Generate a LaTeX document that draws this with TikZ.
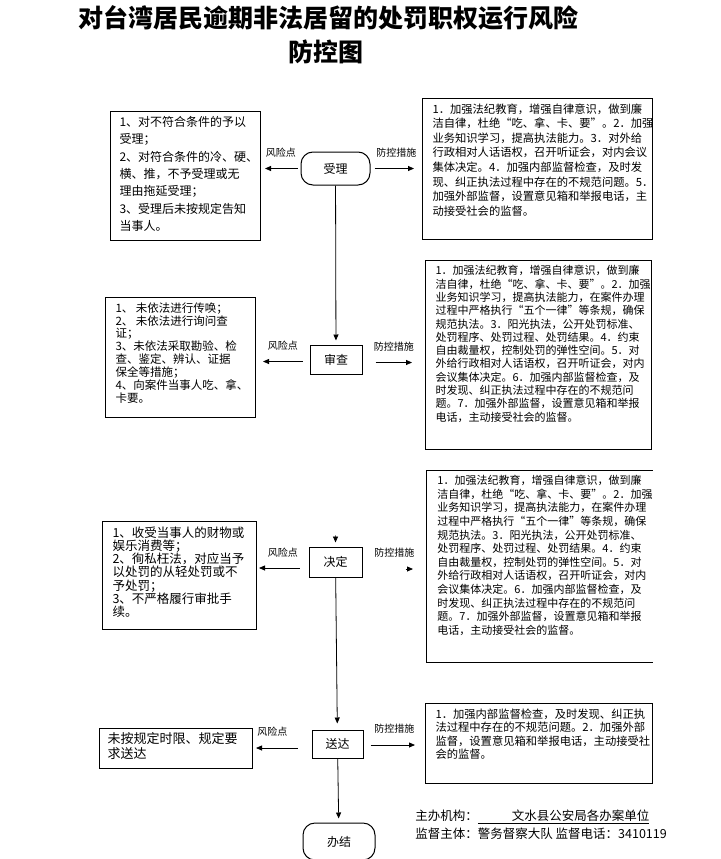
\documentclass[tikz,border=0pt]{standalone}
\usepackage{fontspec}
\setmainfont{Noto Sans CJK SC}
\usetikzlibrary{arrows.meta}

\newcommand{\boxtxt}[3]{\parbox[c][#2][t]{#1}{\raggedright #3}}

\begin{document}
\begin{tikzpicture}[x=1pt,y=-1pt,line width=0.8pt,
  arr/.style={-{Triangle[length=6pt,width=5pt]}},
  txtbox/.style={draw,line width=1pt,anchor=north west,inner xsep=10pt,inner ysep=5pt},
  openbox/.style={anchor=north west,inner xsep=11pt,inner ysep=5pt},
  stage/.style={draw,line width=1pt,minimum width=52pt,minimum height=29pt,inner sep=0pt,font=\fontsize{12}{14}\selectfont},
  lbl/.style={font=\fontsize{10}{12}\selectfont}]

\useasboundingbox (0,0) rectangle (720,859);

\node (t1) at (328,18) {\fontsize{25}{25}\selectfont\bfseries 对台湾居民逾期非法居留的处罚职权运行风险};
\node (t2) at (326,52) {\fontsize{25}{25}\selectfont\bfseries 防控图};

\node[stage,minimum width=69pt,minimum height=33pt,rounded corners=12pt] (sl) at (335.5,168.5) {受理};
\node[stage] (sc) at (336,359.5) {审查};
\node[stage,minimum width=53pt,minimum height=30pt] (jd) at (335.5,562) {决定};
\node[stage,minimum width=51pt,minimum height=28pt] (sd) at (337.5,744) {送达};
\node[stage,minimum width=72pt,minimum height=37pt,rounded corners=12pt] (bj) at (339,841.5) {办结};

\node[txtbox,inner xsep=9pt] (r1) at (110,111) {\fontsize{12}{17.3}\selectfont\boxtxt{132pt}{119pt}{%
1、对不符合条件的予以\\
受理；\\
2、对符合条件的冷、硬、\\
横、推，不予受理或无\\
理由拖延受理；\\
3、受理后未按规定告知\\
当事人。}};

\node[txtbox] (r2) at (105,297) {\fontsize{11.5}{12.9}\selectfont\boxtxt{130pt}{110pt}{%
1、 未依法进行传唤；\\
2、 未依法进行询问查\\
证；\\
3、未依法采取勘验、检\\
查、鉴定、辨认、证据\\
保全等措施；\\
4、向案件当事人吃、拿、\\
卡要。}};

\node[txtbox] (r3) at (102,521) {\fontsize{12.5}{13.3}\selectfont\boxtxt{134pt}{98pt}{%
1、收受当事人的财物或\\
娱乐消费等；\\
2、徇私枉法，对应当予\\
以处罚的从轻处罚或不\\
予处罚；\\
3、不严格履行审批手\\
续。}};

\node[txtbox,inner xsep=8pt,inner ysep=4pt] (r4) at (99,728) {\fontsize{13}{15}\selectfont\boxtxt{137pt}{32pt}{%
未按规定时限、规定要\\
求送达}};

\node[txtbox] (m1) at (422,98) {\fontsize{11.3}{14.6}\selectfont\boxtxt{210pt}{131pt}{%
1．加强法纪教育，增强自律意识，做到廉\\
洁自律，杜绝“吃、拿、卡、要”。2．加强\\
业务知识学习，提高执法能力。3．对外给\\
行政相对人话语权，召开听证会，对内会议\\
集体决定。4．加强内部监督检查，及时发\\
现、纠正执法过程中存在的不规范问题。5．\\
加强外部监督，设置意见箱和举报电话，主\\
动接受社会的监督。}};

\node[txtbox] (m2) at (425,260) {\fontsize{11}{13.3}\selectfont\boxtxt{206pt}{179pt}{%
1．加强法纪教育，增强自律意识，做到廉\\
洁自律，杜绝“吃、拿、卡、要”。2．加强\\
业务知识学习，提高执法能力，在案件办理\\
过程中严格执行“五个一律”等条规，确保\\
规范执法。3．阳光执法，公开处罚标准、\\
处罚程序、处罚过程、处罚结果。4．约束\\
自由裁量权，控制处罚的弹性空间。5．对\\
外给行政相对人话语权，召开听证会，对内\\
会议集体决定。6．加强内部监督检查，及\\
时发现、纠正执法过程中存在的不规范问\\
题。7．加强外部监督，设置意见箱和举报\\
电话，主动接受社会的监督。}};

\node[openbox] (m3) at (426,470) {\fontsize{11}{13.6}\selectfont\boxtxt{204pt}{182pt}{%
1．加强法纪教育，增强自律意识，做到廉\\
洁自律，杜绝“吃、拿、卡、要”。2．加强\\
业务知识学习，提高执法能力，在案件办理\\
过程中严格执行“五个一律”等条规，确保\\
规范执法。3．阳光执法，公开处罚标准、\\
处罚程序、处罚过程、处罚结果。4．约束\\
自由裁量权，控制处罚的弹性空间。5．对\\
外给行政相对人话语权，召开听证会，对内\\
会议集体决定。6．加强内部监督检查，及\\
时发现、纠正执法过程中存在的不规范问\\
题。7．加强外部监督，设置意见箱和举报\\
电话，主动接受社会的监督。}};
\draw[line width=1pt] (m3.north east) -- (m3.north west) -- (m3.south west) -- (m3.south east);

\node[txtbox] (m4) at (425,703) {\fontsize{11.3}{13.5}\selectfont\boxtxt{207pt}{70pt}{%
1．加强内部监督检查，及时发现、纠正执\\
法过程中存在的不规范问题。2．加强外部\\
监督，设置意见箱和举报电话，主动接受社\\
会的监督。}};

\draw[arr,shorten >=4pt] (sl) -- (sc);
\draw[arr,shorten <=161pt,shorten >=4pt] (sc.south) -- (jd.north);
\draw[arr,shorten >=6pt] (jd) -- (sd);
\draw[arr,shorten >=4pt] (sd) -- (bj);

\draw[arr,shorten <=3pt,shorten >=4pt] (sl.west) -- (sl.west -| r1.east) node[lbl,midway,above=7pt] {风险点};
\draw[arr,shorten <=4pt,shorten >=8pt] (sl.east) -- (sl.east -| m1.west) node[lbl,midway,above=7pt] {防控措施};

\draw[arr,shorten <=7pt,shorten >=7pt] ([yshift=-2pt]sc.west) -- ([yshift=-2pt]sc.west -| r2.east) node[lbl,midway,above=7pt] {风险点};
\draw[arr,shorten <=13pt,shorten >=13pt] ([yshift=-3pt]sc.east) -- ([yshift=-3pt]sc.east -| m2.west) node[lbl,midway,above=7pt] {防控措施};

\draw[arr,shorten <=9pt,shorten >=2pt] ([yshift=-6pt]jd.west) -- ([yshift=-6pt]jd.west -| r3.east) node[lbl,midway,above=7pt] {风险点};
\draw[arr,shorten <=43pt,shorten >=13pt] ([yshift=-7pt]jd.east) -- ([yshift=-7pt]jd.east -| m3.west) node[lbl,midway,above=8pt] {防控措施};

\draw[arr,shorten <=14pt,shorten >=3pt] ([yshift=-4pt]sd.west) -- ([yshift=-4pt]sd.west -| r4.east) node[lbl,pos=.67,above=8pt] {风险点};
\draw[arr,shorten <=7pt,shorten >=10pt] ([yshift=-1pt]sd.east) -- ([yshift=-1pt]sd.east -| m4.west) node[lbl,midway,above=8pt] {防控措施};

\node[anchor=west,inner sep=0pt] (f1) at (415,817) {\fontsize{12.5}{14}\selectfont 主办机构：\underline{\hspace{34pt}文水县公安局各办案单位}};
\node[anchor=west,inner sep=0pt] (f2) at (415,834) {\fontsize{12.5}{14}\selectfont 监督主体：警务督察大队 监督电话：3410119};

\end{tikzpicture}
\end{document}
